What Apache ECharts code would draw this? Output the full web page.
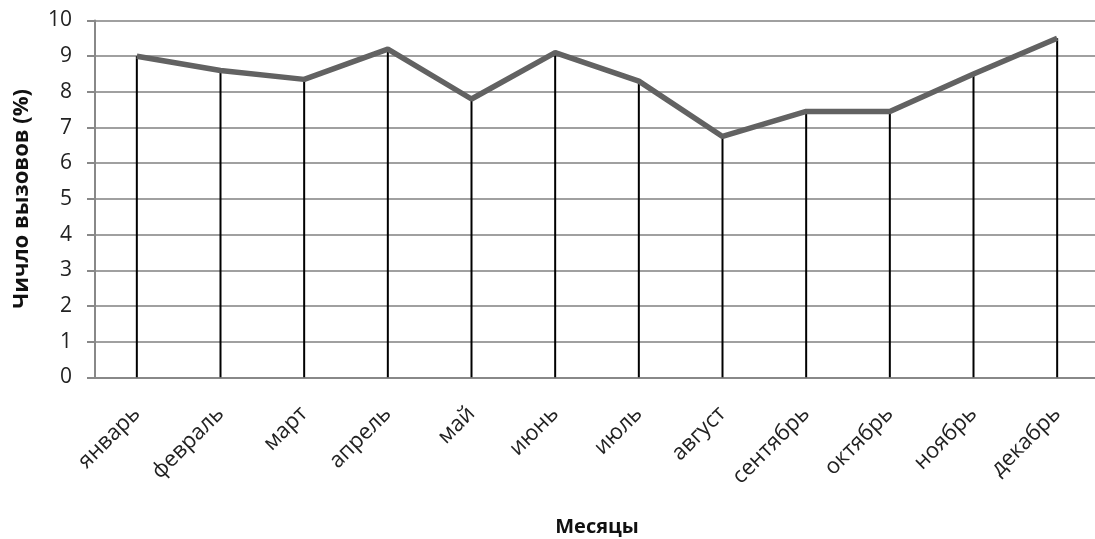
<!DOCTYPE html>
<html>
<head>
<meta charset="utf-8">
<script src="https://cdn.jsdelivr.net/npm/echarts@6/dist/echarts.min.js"></script>
<style>
  html, body { margin: 0; padding: 0; background: #fff; }
  #chart { width: 1095px; height: 539px; }
</style>
</head>
<body>
<div id="chart"></div>
<script>
// Monthly share of calls, percent
const months = ['январь', 'февраль', 'март', 'апрель', 'май', 'июнь', 'июль', 'август', 'сентябрь', 'октябрь', 'ноябрь', 'декабрь'];
const callShare = [9.0, 8.6, 8.35, 9.2, 7.8, 9.1, 8.3, 6.75, 7.45, 7.45, 8.5, 9.5];
const yTicks = [0, 1, 2, 3, 4, 5, 6, 7, 8, 9, 10];

const font = 'Open Sans, Noto Sans, sans-serif';

const chart = echarts.init(document.getElementById('chart'), null, { renderer: 'canvas' });
chart.setOption({
  animation: false,
  backgroundColor: '#ffffff',
  grid: {
    left: 95, top: 20.5, width: 1004, height: 356.8,
    containLabel: false,
    outerBoundsMode: 'none'
  },
  xAxis: {
    type: 'category',
    data: months,
    boundaryGap: true,
    axisLine: { lineStyle: { color: '#888888', width: 2 } },
    axisTick: { show: false },
    axisLabel: {
      rotate: 45,
      margin: 33,
      fontFamily: font,
      fontSize: 22,
      color: '#222222'
    },
    name: 'Месяцы',
    nameLocation: 'middle',
    nameGap: 140,
    nameTextStyle: { fontFamily: font, fontSize: 20, fontWeight: 'bold', color: '#111111' }
  },
  yAxis: {
    type: 'value',
    min: yTicks[0],
    max: yTicks[yTicks.length - 1],
    interval: 1,
    axisLine: { show: true, lineStyle: { color: '#888888', width: 2 } },
    axisTick: { show: true, length: 8, lineStyle: { color: '#888888', width: 2 } },
    splitLine: { lineStyle: { color: '#a0a0a0', width: 2 } },
    axisLabel: {
      margin: 23,
      fontFamily: font,
      fontSize: 21,
      color: '#222222'
    },
    name: 'Чичло вызовов (%)',
    nameLocation: 'middle',
    nameGap: 62,
    nameTextStyle: { fontFamily: font, fontSize: 22, fontWeight: 'bold', color: '#111111' }
  },
  series: [
    {
      // vertical drop lines from each point down to the axis
      type: 'bar',
      data: callShare,
      barWidth: 2,
      itemStyle: { color: '#000000' },
      z: 2,
      silent: true
    },
    {
      type: 'line',
      data: callShare,
      symbol: 'none',
      lineStyle: { color: '#626262', width: 5.5 },
      z: 3,
      silent: true
    }
  ]
});
</script>
</body>
</html>
